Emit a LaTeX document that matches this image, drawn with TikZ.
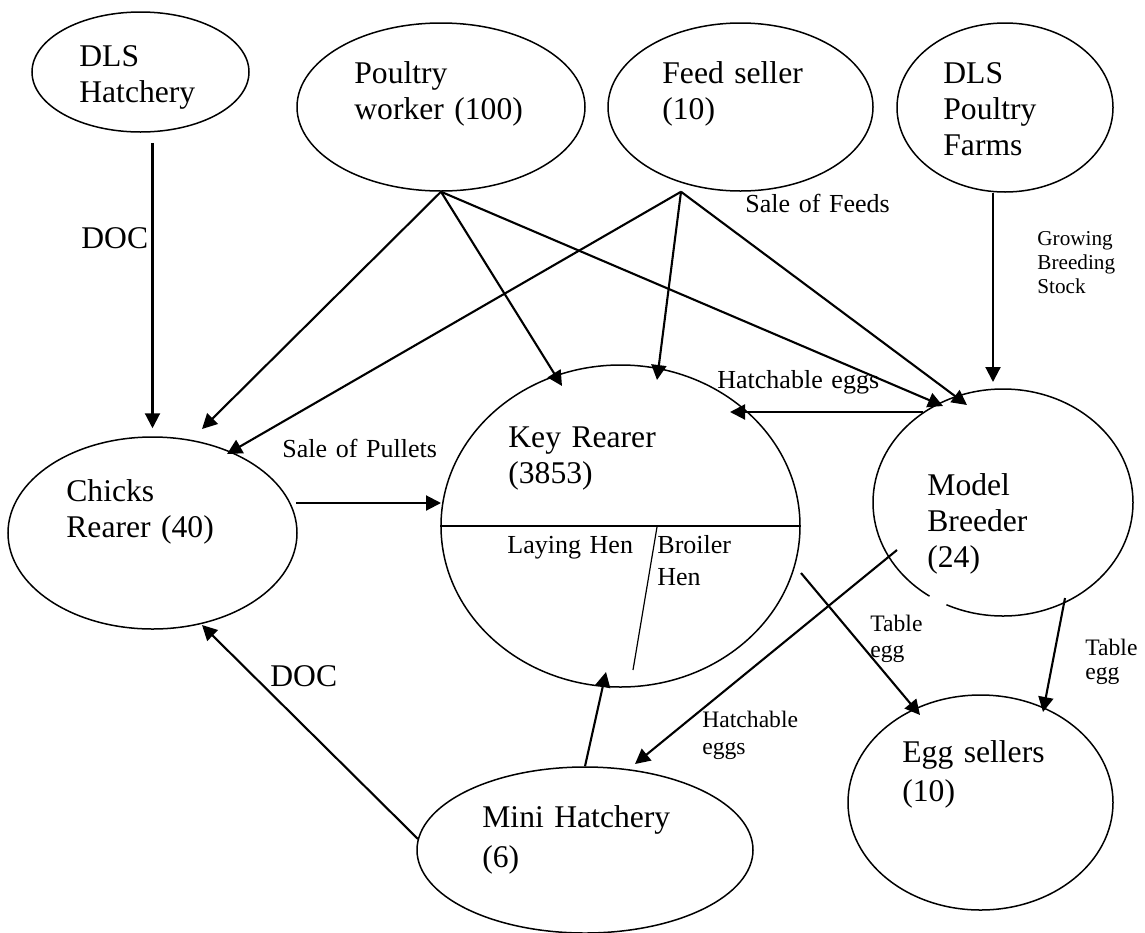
\documentclass[tikz,border=0pt]{standalone}
\usepackage{fontspec}
\setmainfont{Liberation Serif}
\usepackage{tikz}
\usetikzlibrary{arrows.meta,shapes.geometric,calc}

\newcommand{\bigtxt}{\fontsize{15.8}{18}\selectfont}
\newcommand{\midtxt}{\fontsize{13}{16}\selectfont}
\newcommand{\smalltxt}{\fontsize{11.8}{13}\selectfont}
\newcommand{\tinytxt}{\fontsize{10.6}{12}\selectfont}

\begin{document}
\begin{tikzpicture}[x=0.5pt,y=-0.5pt,
    ent/.style={draw,ellipse,inner sep=0pt,line width=0.75pt},
    txt/.style={anchor=base west,inner sep=0pt,text width=100pt,align=left},
    arr/.style={-{Triangle[length=7.5pt,width=7.5pt]},line width=1.05pt}]
    \useasboundingbox (0,0) rectangle (1145,932);

    % actors
    \node[ent,minimum width=108.5pt,minimum height=60pt] (dlsh) at (140.5,72) {};
    \node[ent,minimum width=144pt,minimum height=84pt] (pw) at (441,107) {};
    \node[ent,minimum width=132.5pt,minimum height=84pt] (feed) at (740.5,107) {};
    \node[ent,minimum width=108pt,minimum height=84.5pt] (farms) at (1005,107.5) {};
    \node[ent,minimum width=144.5pt,minimum height=96pt] (chk) at (152.5,533) {};
    \node[ent,minimum width=179.5pt,minimum height=161pt] (key) at (620.5,526) {};
    \node[ent,minimum width=130pt,minimum height=113.5pt] (mb) at (1003,502.5) {};
    \node[ent,minimum width=132.5pt,minimum height=107.5pt] (egg) at (980.5,802.5) {};
    \node[ent,minimum width=168pt,minimum height=83pt] (mini) at (585,850) {};
    \draw[white,line width=2.2pt] (mb.-128) -- (mb.-119);

    % names inside the ellipses
    \node[txt,font=\bigtxt] (dlsh-t) at (79,66) {DLS\\Hatchery};
    \node[txt,font=\bigtxt] (pw-t) at (354,83) {Poultry\\worker (100)};
    \node[txt,font=\bigtxt] (feed-t) at (662,83) {Feed seller\\(10)};
    \node[txt,font=\bigtxt] (farms-t) at (943,83) {DLS\\Poultry\\Farms};
    \node[txt,font=\bigtxt] (chk-t) at (66,501) {Chicks\\Rearer (40)};
    \node[txt,font=\bigtxt] (key-t) at (508,447) {Key Rearer\\(3853)};
    \node[txt,font=\bigtxt] (mb-t) at (927,495) {Model\\Breeder\\(24)};
    \node[txt,font=\fontsize{15.8}{19.5}\selectfont] (egg-t) at (902,762) {Egg sellers\\(10)};
    \node[txt,font=\fontsize{15.8}{20}\selectfont] (mini-t) at (482,827) {Mini Hatchery\\(6)};

    % key rearer split
    \draw[line width=0.65pt] (key.west) -- (key.east);
    \draw[line width=0.6pt] ($(key.center)+(36.5,1)$) -- ($(key.center)+(12.5,144)$);
    \node[txt,font=\midtxt] (lay-t) at (507,553) {Laying Hen};
    \node[txt,font=\midtxt] (broil-t) at (657,553) {Broiler\\Hen};

    % flows
    \draw[arr] ($(dlsh.south -| chk.north)+(0,10)$) -- ($(chk.north)+(0,-8)$);
    \draw[arr] (pw.south) -- ($(chk.center)+(49.5,-104)$);
    \draw[arr] (pw.south) -- ($(key.center)+(-58.5,-140)$);
    \draw[arr] (pw.south) -- ($(mb.center)+(-60,-96.5)$);
    \coordinate (fs) at ($(feed.south)+(-59.5,0)$);
    \draw[arr] (fs) -- ($(chk.center)+(74.5,-79)$);
    \draw[arr] (fs) -- ($(key.center)+(36.5,-146)$);
    \draw[arr] (fs) -- ($(mb.center)+(-36,-97.5)$);
    \draw[arr] ($(farms.south)+(-12,0)$) -- ($(mb.center)+(-10,-120.5)$);
    \draw[arr] ($(chk.center)+(143.5,-30)$) -- ($(key.center)+(-179.5,-23)$);
    \draw[arr] ($(mb.center)+(-80,-90.5)$) -- ($(key.center)+(109.5,-114)$);
    \draw[arr] ($(key.center)+(180.5,47)$) -- ($(egg.center)+(-60.5,-87.5)$);
    \draw[arr] ($(mb.center)+(62,95.5)$) -- ($(egg.center)+(62.5,-90.5)$);
    \draw[arr] ($(mb.center)+(-106,47.5)$) -- ($(mini.center)+(50,-86)$);
    \draw[arr] (mini.north) -- ($(key.center)+(-14.5,146)$);
    \draw[arr] ($(mini.center)+(-167,-11)$) -- ($(chk.center)+(49.5,92)$);

    % flow labels
    \node[txt,font=\bigtxt] (doc1) at (81,248) {DOC};
    \node[txt,font=\bigtxt] (doc2) at (270,686) {DOC};
    \node[txt,font=\midtxt] (sfeed) at (745,212) {Sale of Feeds};
    \node[txt,font=\tinytxt] (grow) at (1037,245) {Growing\\Breeding\\Stock};
    \node[txt,font=\midtxt] (spul) at (282,457) {Sale of Pullets};
    \node[txt,font=\midtxt] (hatch1) at (717,388) {Hatchable eggs};
    \node[txt,font=\smalltxt] (tab1) at (870,631) {Table\\egg};
    \node[txt,font=\fontsize{11.8}{12}\selectfont] (tab2) at (1085,655) {Table\\egg};
    \node[txt,font=\fontsize{11.8}{13.5}\selectfont] (hatch2) at (702,727) {Hatchable\\eggs};
\end{tikzpicture}
\end{document}
